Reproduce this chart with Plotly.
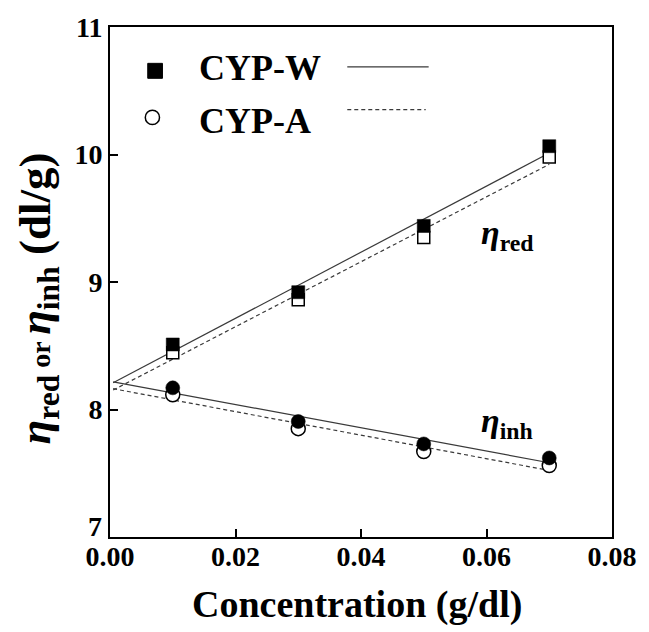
import numpy as np
import plotly.graph_objects as go

conc = [0.01, 0.03, 0.05, 0.07]
red_w = [8.51, 8.92, 9.44, 10.065]
red_a = [8.445, 8.86, 9.35, 9.98]
inh_w = [8.17, 7.906, 7.73, 7.62]
inh_a = [8.115, 7.85, 7.67, 7.56]
fit_x = [0.0005, 0.07]
x_ticks = [0.00, 0.02, 0.04, 0.06, 0.08]
x_tick_labels = ["0.00", "0.02", "0.04", "0.06", "0.08"]
y_ticks = [7, 8, 9, 10, 11]
y_tick_labels = ["", "8", "9", "10", "11"]

FONT = "'Liberation Serif', 'Times New Roman', Times, serif"
L, R, T, B = 110, 27, 25, 95
W, H = 649, 632
PW, PH = W - L - R, H - T - B

def px(xp):
    return (xp - L) / PW

def py(yp):
    return (H - B - yp) / PH

fig = go.Figure()

def fit(y):
    k, b = np.polyfit(conc, y, 1)
    return [k * x + b for x in fit_x]

for ys, dash in [(red_w, "solid"), (inh_w, "solid"), (red_a, "4px,3px"), (inh_a, "4px,3px")]:
    fig.add_trace(go.Scatter(x=fit_x, y=fit(ys), mode="lines",
                             line=dict(color="#3a3a3a", width=1.2, dash=dash),
                             showlegend=False, hoverinfo="skip"))

fig.add_trace(go.Scatter(x=conc, y=red_a, mode="markers", showlegend=False,
                         marker=dict(symbol="square", size=12, color="white",
                                     line=dict(color="black", width=1.5))))
fig.add_trace(go.Scatter(x=conc, y=inh_a, mode="markers", showlegend=False,
                         marker=dict(symbol="circle", size=14, color="white",
                                     line=dict(color="black", width=1.5))))
fig.add_trace(go.Scatter(x=conc, y=red_w, mode="markers", showlegend=False,
                         marker=dict(symbol="square", size=13, color="black",
                                     line=dict(color="black", width=0.5))))
fig.add_trace(go.Scatter(x=conc, y=inh_w, mode="markers", showlegend=False,
                         marker=dict(symbol="circle", size=14, color="black",
                                     line=dict(color="black", width=0.5))))

axis_common = dict(showgrid=False, zeroline=False, showline=True, linecolor="black",
                   linewidth=2, mirror=True, ticks="inside", ticklen=8, tickwidth=2,
                   tickcolor="black",
                   tickfont=dict(family=FONT, size=28, color="black", weight="bold"))

fig.update_xaxes(range=[0, 0.08], tickvals=x_ticks, ticktext=x_tick_labels,
                 ticklabelstandoff=-7, **axis_common)
fig.update_yaxes(range=[7, 11], tickvals=y_ticks, ticktext=y_tick_labels, **axis_common)

shapes = [
    dict(type="rect", xref="paper", yref="paper", x0=px(148.5), x1=px(163.5),
         y0=py(76.5), y1=py(61.5), fillcolor="black", line=dict(color="black", width=1)),
    dict(type="circle", xref="paper", yref="paper", x0=px(146), x1=px(160.5),
         y0=py(123), y1=py(108.5), fillcolor="white", line=dict(color="black", width=1.5)),
    dict(type="line", xref="paper", yref="paper", x0=px(352), x1=px(435),
         y0=py(65), y1=py(65), line=dict(color="#3a3a3a", width=1.2)),
    dict(type="line", xref="paper", yref="paper", x0=px(352), x1=px(432),
         y0=py(108), y1=py(108), line=dict(color="#3a3a3a", width=1.2, dash="4px,3px")),
]
fig.update_layout(shapes=shapes)

bold = dict(family=FONT, color="black", weight="bold")
annos = [
    dict(text="7", x=-0.012, y=py(526), xanchor="right", yanchor="middle",
         font=dict(size=28, **bold)),
    dict(text="CYP-W", x=px(199), y=py(66), xanchor="left", yanchor="middle",
         font=dict(size=36, **bold)),
    dict(text="CYP-A", x=px(199), y=py(119), xanchor="left", yanchor="middle",
         font=dict(size=36, **bold)),
    dict(text="<i>η</i><sub>red</sub>", x=px(486), y=py(234), xanchor="left", yanchor="middle",
         font=dict(size=34, **bold)),
    dict(text="<i>η</i><sub>inh</sub>", x=px(486), y=py(423), xanchor="left", yanchor="middle",
         font=dict(size=34, **bold)),
    dict(text="Concentration (g/dl)", x=px(362), y=py(605), xanchor="center", yanchor="middle",
         font=dict(size=38, **bold)),
    dict(text="<i>η</i><sub>red</sub><span style='font-size:28px'> or </span><i>η</i><sub>inh</sub> (dl/g)",
         x=px(36), y=py(297), xanchor="center", yanchor="middle", textangle=-90,
         font=dict(size=45, **bold)),
]
for a in annos:
    a.update(xref="paper", yref="paper", showarrow=False)
fig.update_layout(annotations=annos)

fig.update_layout(width=W, height=H, margin=dict(l=L, r=R, t=T, b=B),
                  plot_bgcolor="white", paper_bgcolor="white",
                  font=dict(family=FONT))

fig.write_html("out.html")
